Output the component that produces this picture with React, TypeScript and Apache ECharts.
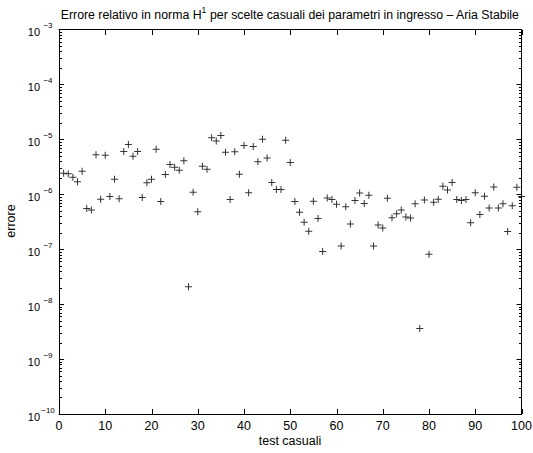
import React, { useEffect, useRef } from 'react';
import * as echarts from 'echarts';

const TITLE_PRE = 'Errore relativo in norma H';
const TITLE_SUP = '1';
const TITLE_POST = ' per scelte casuali dei parametri in ingresso – Aria Stabile';
const X_NAME = 'test casuali';
const Y_NAME = 'errore';

const X_MIN = 0;
const X_MAX = 100;
const X_STEP = 10;
const X_TICKS = [0, 10, 20, 30, 40, 50, 60, 70, 80, 90, 100];
const Y_MIN = 1e-10;
const Y_MAX = 1e-3;

// errore per test casuale 1..100
const errors = [
  2.42e-6, 2.36e-6, 2.05e-6, 1.69e-6, 2.63e-6, 5.5e-7, 5.2e-7, 5.25e-6, 8.1e-7, 5.16e-6,
  9.1e-7, 1.88e-6, 8.3e-7, 6.0e-6, 8.1e-6, 4.9e-6, 6.0e-6, 8.7e-7, 1.62e-6, 1.88e-6,
  6.6e-6, 7.4e-7, 2.29e-6, 3.5e-6, 3.1e-6, 2.75e-6, 4.1e-6, 2.08e-8, 1.09e-6, 4.8e-7,
  3.25e-6, 2.85e-6, 1.07e-5, 9.3e-6, 1.18e-5, 5.8e-6, 8.0e-7, 5.96e-6, 2.32e-6, 7.7e-6,
  1.07e-6, 7.4e-6, 3.9e-6, 1.0e-5, 4.6e-6, 1.64e-6, 1.22e-6, 1.22e-6, 9.6e-6, 3.8e-6,
  7.4e-7, 4.7e-7, 3.1e-7, 2.12e-7, 7.45e-7, 3.64e-7, 9.1e-8, 8.6e-7, 8.0e-7, 6.6e-7,
  1.14e-7, 5.96e-7, 2.87e-7, 7.7e-7, 1.05e-6, 6.8e-7, 9.6e-7, 1.15e-7, 2.76e-7, 2.43e-7,
  8.45e-7, 3.75e-7, 4.4e-7, 5.2e-7, 3.86e-7, 3.7e-7, 6.76e-7, 3.6e-9, 7.9e-7, 8.1e-8,
  7.15e-7, 8.1e-7, 1.4e-6, 1.2e-6, 1.64e-6, 8.0e-7, 7.7e-7, 8.0e-7, 3.04e-7, 1.07e-6,
  4.3e-7, 9.2e-7, 5.6e-7, 1.36e-6, 5.6e-7, 6.7e-7, 2.1e-7, 6.2e-7, 1.34e-6, 9.1e-7,
];

const FONT = 'Liberation Sans, Arial, Helvetica, sans-serif';

function minorTickValues(): number[] {
  const out: number[] = [];
  for (let e = -10; e < -3; e++) {
    for (let k = 2; k <= 9; k++) out.push(k * Math.pow(10, e));
  }
  return out;
}

const TICK_W = 1;
const TICK_C = '#000';
const MAJOR_LEN = 5;
const MINOR_LEN = 3;

function makeAxisLine() {
  return { show: true, onZero: false, lineStyle: { color: '#000', width: 1 } };
}
function makeYTick() {
  return { show: true, inside: true, length: MAJOR_LEN, lineStyle: { color: TICK_C, width: TICK_W } };
}

export default function App() {
  const ref = useRef<HTMLDivElement>(null);
  useEffect(() => {
    if (!ref.current) return;
    const chart = echarts.init(ref.current, undefined, { renderer: 'svg' });
    const scatterData = errors.map((v, i) => [i + 1, v]);
    const minorData = minorTickValues().map((v) => [X_MIN, v]);
    const xTickData = X_TICKS.map((x) => [x, Y_MIN]);
    const yRich = {
      b: { fontSize: 11, fontFamily: FONT, color: '#000', lineHeight: 16, verticalAlign: 'bottom' },
      s: { fontSize: 8, fontFamily: FONT, color: '#000', lineHeight: 16, verticalAlign: 'top', width: 14, align: 'left', padding: [0, 0, 0, 1] },
    };
    const option: any = {
      animation: false,
      backgroundColor: '#fff',
      grid: { left: 59, right: 11.5, top: 29.5, bottom: 39, containLabel: false, outerBoundsMode: 'none' },
      xAxis: [
        {
          type: 'value', min: X_MIN, max: X_MAX, interval: X_STEP, position: 'bottom',
          axisLine: makeAxisLine(), axisTick: { show: false }, splitLine: { show: false },
          axisLabel: { show: true, color: '#000', fontSize: 12.5, fontFamily: FONT, margin: 5 },
        },
        {
          type: 'value', min: X_MIN, max: X_MAX, interval: X_STEP, position: 'top',
          axisLine: makeAxisLine(), axisTick: { show: false }, splitLine: { show: false },
          axisLabel: { show: false },
        },
      ],
      yAxis: [
        {
          type: 'log', logBase: 10, min: Y_MIN, max: Y_MAX, interval: 1, position: 'left',
          axisLine: makeAxisLine(), axisTick: makeYTick(), splitLine: { show: false },
          axisLabel: {
            show: true, margin: 4, color: '#000',
            formatter: (v: number) => `{b|10}{s|−${Math.abs(Math.round(Math.log10(v)))}}`,
            rich: yRich,
          },
        },
        {
          type: 'log', logBase: 10, min: Y_MIN, max: Y_MAX, interval: 1, position: 'right',
          axisLine: makeAxisLine(), axisTick: makeYTick(), splitLine: { show: false },
          axisLabel: { show: false },
        },
      ],
      series: [
        {
          type: 'custom',
          silent: true,
          clip: false,
          z: 5,
          data: minorData,
          renderItem: (params: any, api: any) => {
            const v = api.value(1);
            const p0 = api.coord([X_MIN, v]);
            const p1 = api.coord([X_MAX, v]);
            const y = Math.round(p0[1]) + 0.5;
            const xl = Math.round(p0[0]);
            const xr = Math.round(p1[0]);
            return {
              type: 'group',
              children: [
                { type: 'line', shape: { x1: xl, y1: y, x2: xl + MINOR_LEN, y2: y }, style: { stroke: TICK_C, lineWidth: TICK_W } },
                { type: 'line', shape: { x1: xr - MINOR_LEN, y1: y, x2: xr, y2: y }, style: { stroke: TICK_C, lineWidth: TICK_W } },
              ],
            };
          },
        },
        {
          type: 'custom',
          silent: true,
          clip: false,
          z: 5,
          data: xTickData,
          renderItem: (params: any, api: any) => {
            const x = api.value(0);
            const pb = api.coord([x, Y_MIN]);
            const pt = api.coord([x, Y_MAX]);
            const xx = Math.round(pb[0]) + 0.5;
            const yb = Math.round(pb[1]);
            const yt = Math.round(pt[1]);
            return {
              type: 'group',
              children: [
                { type: 'line', shape: { x1: xx, y1: yb, x2: xx, y2: yb - MAJOR_LEN }, style: { stroke: TICK_C, lineWidth: TICK_W } },
                { type: 'line', shape: { x1: xx, y1: yt, x2: xx, y2: yt + MAJOR_LEN }, style: { stroke: TICK_C, lineWidth: TICK_W } },
              ],
            };
          },
        },
        {
          type: 'scatter',
          clip: false,
          data: scatterData,
          symbol: 'path://M3,0H4V7H3ZM0,3H7V4H0Z',
          symbolSize: 7,
          itemStyle: { color: '#000' },
          silent: true,
        },
      ],
      graphic: [
        {
          type: 'text', x: 290, y: 13,
          style: {
            text: `{t|${TITLE_PRE}}{s|${TITLE_SUP}}{t|${TITLE_POST}}`,
            align: 'center', verticalAlign: 'middle',
            rich: {
              t: { fontSize: 12.3, fontFamily: FONT, fill: '#000', lineHeight: 16, verticalAlign: 'bottom' },
              s: { fontSize: 8.5, fontFamily: FONT, fill: '#000', lineHeight: 16, verticalAlign: 'top' },
            },
          },
        },
        {
          type: 'text', x: 290, y: 441,
          style: { text: X_NAME, fontSize: 12.5, fontFamily: FONT, fill: '#000', align: 'center', verticalAlign: 'middle' },
        },
        {
          type: 'text', x: 11, y: 221, rotation: Math.PI / 2,
          style: { text: Y_NAME, fontSize: 12.5, fontFamily: FONT, fill: '#000', align: 'center', verticalAlign: 'middle' },
        },
      ],
    };
    chart.setOption(option);
    return () => chart.dispose();
  }, []);
  return <div ref={ref} style={{ position: 'fixed', left: 0, top: 0, width: 533, height: 453 }} />;
}
